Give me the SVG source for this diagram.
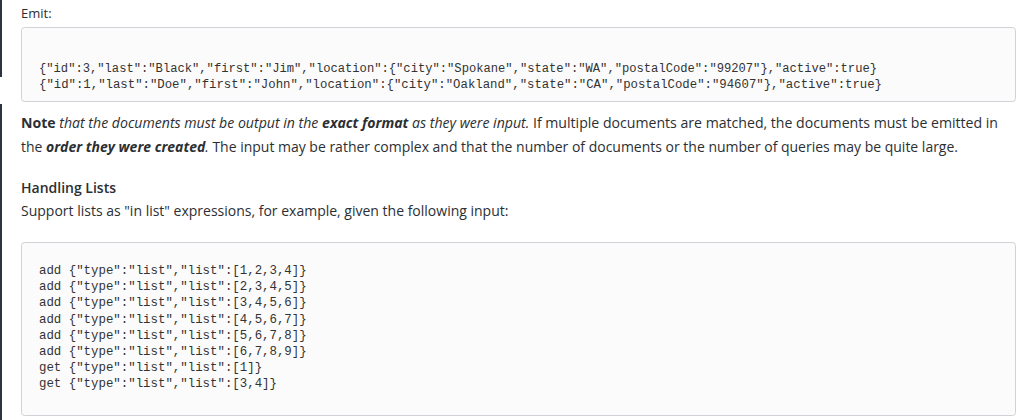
<svg xmlns="http://www.w3.org/2000/svg" width="1024" height="420" viewBox="0 0 1024 420">
<style>
.t{font-family:"Open Sans","Noto Sans",sans-serif;font-size:14px;fill:#2b2f33}
.c{font-family:"Liberation Mono","DejaVu Sans Mono",monospace;font-size:12px;fill:#333}
.box{fill:#fbfbfb;stroke:#cfd3d7;stroke-width:1}
</style>
<rect width="1024" height="420" fill="#fff"/>
<rect x="0" y="0" width="2" height="77" fill="#2b3440"/>
<rect x="0" y="104" width="2" height="316" fill="#2b3440"/>
<text class="t" x="21" y="18" style="font-size:13px">Emit:</text>
<rect class="box" x="21.5" y="27.5" width="994" height="74" rx="3"/>
<text class="c" x="39" y="72" textLength="838" lengthAdjust="spacingAndGlyphs">{"id":3,"last":"Black","first":"Jim","location":{"city":"Spokane","state":"WA","postalCode":"99207"},"active":true}</text>
<text class="c" x="39" y="88" textLength="843" lengthAdjust="spacingAndGlyphs">{"id":1,"last":"Doe","first":"John","location":{"city":"Oakland","state":"CA","postalCode":"94607"},"active":true}</text>
<text class="t" x="21" y="128" textLength="977" lengthAdjust="spacingAndGlyphs"><tspan font-weight="bold">Note</tspan> <tspan font-style="italic">that the documents must be output in the </tspan><tspan font-style="italic" font-weight="bold">exact format</tspan><tspan font-style="italic"> as they were input.</tspan> If multiple documents are matched, the documents must be emitted in</text>
<text class="t" x="21" y="152" textLength="937" lengthAdjust="spacingAndGlyphs">the <tspan font-style="italic" font-weight="bold">order they were created</tspan><tspan font-style="italic">.</tspan>  The input may be rather complex and that the number of documents or the number of queries may be quite large.</text>
<text class="t" x="21" y="193" font-weight="600">Handling Lists</text>
<text class="t" x="21" y="216">Support lists as "in list" expressions, for example, given the following input:</text>
<rect class="box" x="21.5" y="242.5" width="994" height="173" rx="3"/>
<g class="c" style="font-size:12.4px">
<text x="39" y="274">add {"type":"list","list":[1,2,3,4]}</text>
<text x="39" y="290.2">add {"type":"list","list":[2,3,4,5]}</text>
<text x="39" y="306.4">add {"type":"list","list":[3,4,5,6]}</text>
<text x="39" y="322.6">add {"type":"list","list":[4,5,6,7]}</text>
<text x="39" y="338.8">add {"type":"list","list":[5,6,7,8]}</text>
<text x="39" y="355">add {"type":"list","list":[6,7,8,9]}</text>
<text x="39" y="371.2">get {"type":"list","list":[1]}</text>
<text x="39" y="387.4">get {"type":"list","list":[3,4]}</text>
</g>
</svg>
